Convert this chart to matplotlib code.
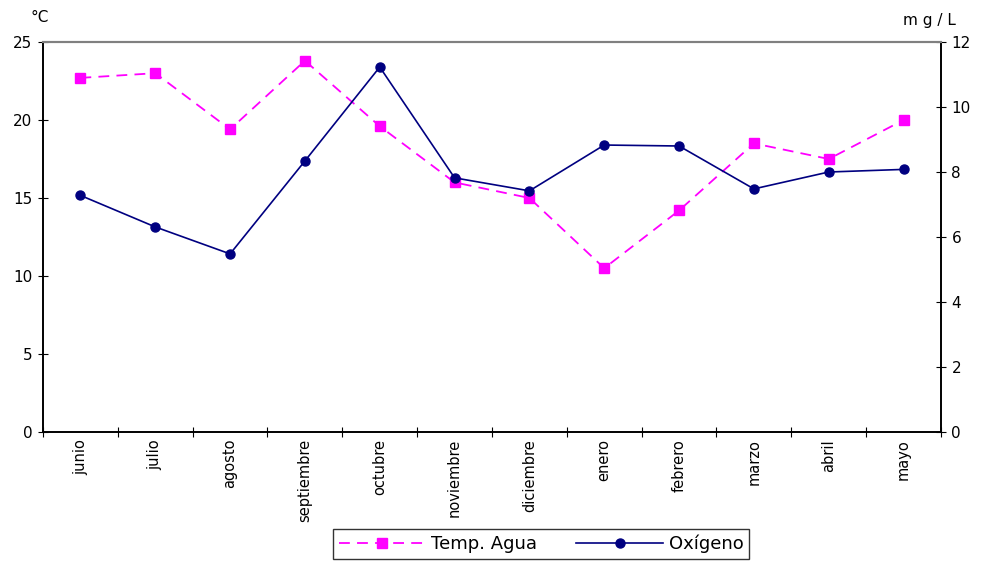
import matplotlib
matplotlib.use("Agg")
import matplotlib.pyplot as plt
import numpy as np

meses = ["junio", "julio", "agosto", "septiembre", "octubre", "noviembre",
         "diciembre", "enero", "febrero", "marzo", "abril", "mayo"]
temp_agua = [22.7, 23.0, 19.4, 23.8, 19.6, 16.0, 15.0, 10.5, 14.2, 18.5, 17.5, 20.0]
oxigeno = [7.28, 6.31, 5.48, 8.34, 11.23, 7.82, 7.42, 8.83, 8.80, 7.48, 8.0, 8.08]

plt.rcParams['font.family'] = ['DejaVu Sans']
plt.rcParams['font.size'] = 11

fig = plt.figure(figsize=(9.81, 5.61), dpi=100)
ax = fig.add_axes([43/981, (561-432)/561, 898/981, 390/561])
ax2 = ax.twinx()

x = np.arange(len(meses))
l1, = ax.plot(x, temp_agua, color='#ff00ff', ls=(0, (6, 4)), lw=1.3,
              marker='s', ms=7, label='Temp. Agua')
l2, = ax2.plot(x, oxigeno, color='#000080', lw=1.2,
               marker='o', ms=6.5, label='Oxígeno')

ax.set_xlim(-0.5, len(meses) - 0.5)
ax.set_ylim(0, 25)
ax.set_yticks(range(0, 26, 5))
ax2.set_ylim(0, 12)
ax2.set_yticks(range(0, 13, 2))

# category ticks sit between months, labels centred on each month
ax.set_xticks(np.arange(-0.5, len(meses)), minor=False)
ax.set_xticklabels([])
ax.set_xticks(x, minor=True)
ax.set_xticklabels(meses, minor=True, rotation=90, fontsize=10.5)
ax.tick_params(axis='x', which='minor', length=0, pad=5)
ax.tick_params(axis='x', which='major', direction='inout', length=7)
ax.tick_params(axis='y', direction='inout', length=7, pad=4)
ax2.tick_params(axis='y', direction='inout', length=7, pad=4)

for a in (ax, ax2):
    a.spines['top'].set_color('#808080')
    a.spines['top'].set_linewidth(1.5)
    for s in ('left', 'right', 'bottom'):
        a.spines[s].set_linewidth(1.2)

fig.text(30/981, 1 - 18/561, '°C', ha='left', va='center', fontsize=11)
fig.text(956/981, 1 - 20/561, 'm g / L', ha='right', va='center', fontsize=11)

leg = fig.legend([l1, l2], ['Temp. Agua', 'Oxígeno'], loc='center',
                 bbox_to_anchor=(541/981, 1 - 544/561), ncol=2, frameon=True,
                 fancybox=False, edgecolor='black', fontsize=13,
                 handlelength=4.8, handletextpad=0.3, columnspacing=2.2,
                 borderpad=0.3)
leg.get_frame().set_linewidth(1.0)

fig.savefig('out.png', dpi=100)
